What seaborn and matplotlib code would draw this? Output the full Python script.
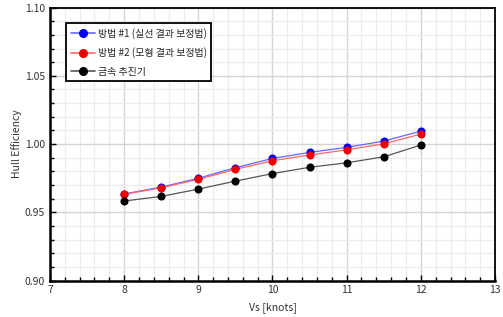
import matplotlib
matplotlib.use("Agg")
import matplotlib.pyplot as plt
from matplotlib.ticker import MultipleLocator
from matplotlib.lines import Line2D
import seaborn as sns
import pandas as pd

speed = [8, 8.5, 9, 9.5, 10, 10.5, 11, 11.5, 12]
method1 = [0.9635, 0.9685, 0.975, 0.9827, 0.9895, 0.9939, 0.9976, 1.0022, 1.0095]
method2 = [0.9632, 0.968, 0.9742, 0.9815, 0.9878, 0.992, 0.9958, 1.0002, 1.0073]
metal = [0.9583, 0.9617, 0.967, 0.9729, 0.9784, 0.983, 0.9863, 0.9907, 0.9993]
series_names = ["방법 #1 (실선 결과 보정법)", "방법 #2 (모형 결과 보정법)", "금속 추진기"]
colors = ["#0000ee", "#ee0000", "#000000"]
line_colors = ["#6666ff", "#ff6666", "#555555"]

sns.set_theme(style="white")
plt.rcParams["font.family"] = ["Noto Sans CJK KR", "DejaVu Sans"]

rows = []
for name, vals in zip(series_names, [method1, method2, metal]):
    for s, v in zip(speed, vals):
        rows.append({"Vs": s, "eff": v, "series": name})
df = pd.DataFrame(rows)

fig = plt.figure(figsize=(5.03, 3.17), dpi=100)
ax = fig.add_axes([50 / 503, 1 - 280.6 / 317, 445 / 503, 273 / 317])

for name, lc in zip(series_names, line_colors):
    sub = df[df.series == name]
    sns.lineplot(data=sub, x="Vs", y="eff", ax=ax, color=lc, linewidth=0.9,
                 legend=False, zorder=3)
for name, c in zip(series_names, colors):
    sub = df[df.series == name]
    sns.scatterplot(data=sub, x="Vs", y="eff", ax=ax, color=c, s=34,
                    edgecolor=c, linewidth=0, legend=False, zorder=4)

handles = [Line2D([0], [0], color=lc, lw=1.2, marker="o", markersize=5.5,
                  markerfacecolor=c, markeredgecolor=c)
           for c, lc in zip(colors, line_colors)]
leg = ax.legend(handles, series_names, loc="upper left",
                bbox_to_anchor=(0.036, 0.942), fontsize=7.2, frameon=True,
                fancybox=False, edgecolor="black", framealpha=1,
                borderpad=0.45, labelspacing=0.85, handlelength=2.4,
                handletextpad=0.3, borderaxespad=0)
leg.get_frame().set_linewidth(1.3)

ax.set_xlim(7, 13)
ax.set_ylim(0.90, 1.10)
ax.xaxis.set_major_locator(MultipleLocator(1))
ax.xaxis.set_minor_locator(MultipleLocator(0.2))
ax.yaxis.set_major_locator(MultipleLocator(0.05))
ax.yaxis.set_minor_locator(MultipleLocator(0.01))
ax.yaxis.set_major_formatter(plt.FormatStrFormatter("%.2f"))

ax.grid(which="major", color="#d4d4d4", linewidth=1.0, zorder=0)
ax.grid(which="minor", color="#ececec", linewidth=0.9, zorder=0)
ax.set_axisbelow(True)

ax.tick_params(which="both", direction="in", colors="black", labelcolor="#333333",
               labelsize=7.5, top=False, right=False, left=True, bottom=True)
ax.tick_params(which="major", length=4, width=1, pad=3.5)
ax.tick_params(which="minor", length=3, width=1)

for sp in ax.spines.values():
    sp.set_color("black")
    sp.set_linewidth(1.3)
ax.spines["bottom"].set_linewidth(1.8)
ax.spines["left"].set_linewidth(1.8)

ax.set_xlabel("Vs [knots]", fontsize=7.5, color="#333333", labelpad=5)
ax.set_ylabel("Hull Efficiency", fontsize=7.5, color="#333333", labelpad=2)

fig.savefig("out.png", dpi=100)
